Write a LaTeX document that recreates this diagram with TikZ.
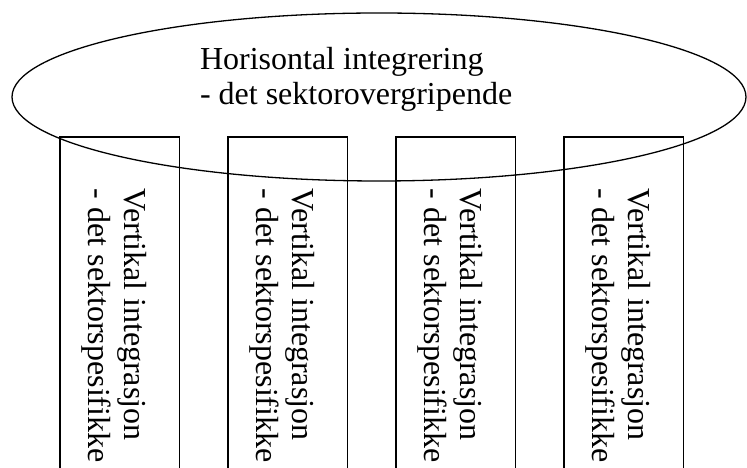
\documentclass[tikz,border=0pt]{standalone}
\usepackage{fontspec}
\setmainfont{Liberation Serif}
\begin{document}
\begin{tikzpicture}[x=1pt,y=1pt,
  outline/.style={draw=black,line width=1.5pt},
  txt/.style={inner sep=0pt,outer sep=0pt,font=\fontsize{32}{36.8}\selectfont},
  vtxt/.style={txt,rotate=-90,anchor=base west}]
\clip (0,0) rectangle (747,468);
\fill[white] (0,0) rectangle (747,468);
% big ellipse
\draw[outline,line width=1.3pt] (379,371) ellipse [x radius=367, y radius=84];
\node[txt,anchor=base west] (h1) at (200,398) {Horisontal integrering};
\node[txt,anchor=base west] (h2) at (200,363) {- det sektorovergripende};
% columns
\foreach \i/\xl in {1/60,2/228,3/396,4/564}{
  \draw[outline] (\xl,-10) -- (\xl,331) -- (\xl+119.5,331) -- (\xl+119.5,-10);
  \node[vtxt] (v\i a) at (\xl+64,279) {Vertikal integrasjon};
  \node[vtxt] (v\i b) at (\xl+28,279) {- det sektorspesifikke};
}
\end{tikzpicture}
\end{document}
